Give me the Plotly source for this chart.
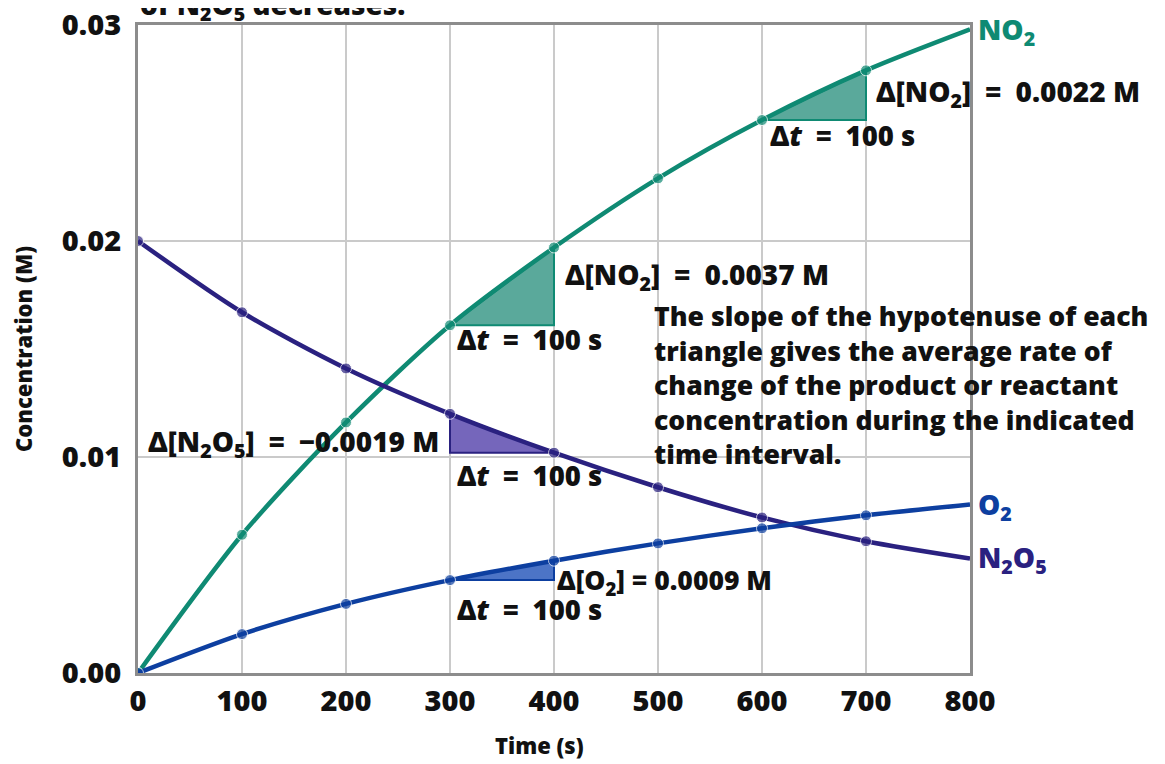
import plotly.graph_objects as go

# ---- data ----
time_s = [0, 100, 200, 300, 400, 500, 600, 700, 800]
no2 = [0.0, 0.0064, 0.0116, 0.0161, 0.0197, 0.0229, 0.0256, 0.0279, 0.0298]
n2o5 = [0.0200, 0.0167, 0.0141, 0.0120, 0.0102, 0.0086, 0.0072, 0.0061, 0.0053]
o2 = [0.0, 0.0018, 0.0032, 0.0043, 0.0052, 0.0060, 0.0067, 0.0073, 0.0078]

x_ticks = [0, 100, 200, 300, 400, 500, 600, 700, 800]
y_ticks = [0.00, 0.01, 0.02, 0.03]

C_NO2, F_NO2 = "#0f8a73", "#5aa99b"
C_N2O5, F_N2O5 = "#2a2180", "#7566bb"
C_O2, F_O2 = "#0d3fa0", "#4c74c6"

FONT = "Open Sans"
TXT = 28
W = 800
INK = "#111111"
fig = go.Figure()


def triangle(series, i, j, line_c, fill_c, decreasing=False):
    x0, x1 = time_s[i], time_s[j]
    y0, y1 = series[i], series[j]
    if decreasing:
        xs, ys = [x0, x1, x0, x0], [y0, y1, y1, y0]
    else:
        xs, ys = [x0, x1, x1, x0], [y0, y1, y0, y0]
    fig.add_trace(go.Scatter(x=xs, y=ys, mode="lines", fill="toself",
                             fillcolor=fill_c, line=dict(color=line_c, width=2),
                             hoverinfo="skip", showlegend=False))


triangle(no2, 3, 4, C_NO2, F_NO2)
triangle(no2, 6, 7, C_NO2, F_NO2)
triangle(n2o5, 3, 4, C_N2O5, F_N2O5, decreasing=True)
triangle(o2, 3, 4, C_O2, F_O2)

msizes = [11] * (len(time_s) - 1) + [0]
for name, ser, col in [("NO2", no2, C_NO2), ("N2O5", n2o5, C_N2O5), ("O2", o2, C_O2)]:
    fig.add_trace(go.Scatter(x=time_s, y=ser, mode="lines+markers", name=name,
                             line=dict(color=col, width=4.5, shape="spline", smoothing=0.8),
                             marker=dict(color=col, size=msizes),
                             showlegend=False))


def note(x, y, text, xanchor="left", color=INK, size=TXT, xref="x", yref="y", xshift=0):
    fig.add_annotation(x=x, y=y, xref=xref, yref=yref, text=text, showarrow=False,
                       xanchor=xanchor, yanchor="middle", align="left", xshift=xshift,
                       font=dict(family=FONT, size=size, color=color, weight=W))


EQ = "\u2002=\u2002"
dt = "\u0394<i>t</i>" + EQ + "100 s"
note(708, 0.02685, "\u0394[NO<sub>2</sub>]" + EQ + "0.0022 M")
note(606, 0.0249, dt, size=27.5)
note(409, 0.01840, "\u0394[NO<sub>2</sub>]" + EQ + "0.0037 M")
note(305, 0.01545, dt, size=27.5)
note(291, 0.01065, "\u0394[N<sub>2</sub>O<sub>5</sub>]" + EQ + "\u22120.0019 M", xanchor="right")
note(305, 0.00915, dt, size=27.5)
note(401, 0.00424, "\u0394[O<sub>2</sub>] = 0.0009 M", size=26.5)
note(305, 0.00292, dt, size=27.5)
note(494, 0.01332,
     "The slope of the hypotenuse of each<br>triangle gives the average rate of<br>"
     "change of the product or reactant<br>concentration during the indicated<br>time interval.",
     size=26.6)

note(1.0, 0.0297, "NO<sub>2</sub>", color=C_NO2, xref="paper", xshift=6)
note(1.0, 0.00775, "O<sub>2</sub>", color=C_O2, xref="paper", xshift=6)
note(1.0, 0.0053, "N<sub>2</sub>O<sub>5</sub>", color=C_N2O5, xref="paper", xshift=6)

# x-axis title placed as text (slightly left of the plot centre, as in the reference)
note(0.482, -0.111, "Time (s)", xanchor="center", size=22, xref="paper", yref="paper")

# partially visible caption at the very top (cut off by the page edge, as in the reference)
fig.add_annotation(x=0, y=1.0, xref="x", yref="paper", xanchor="left", yanchor="bottom",
                   text="of N<sub>2</sub>O<sub>5</sub> decreases.", showarrow=False,
                   yshift=-4,
                   font=dict(family=FONT, size=TXT, color=INK, weight=W))

axis_common = dict(showgrid=True, gridcolor="#cacaca", gridwidth=1.5, zeroline=False,
                   showline=True, linecolor="#8c8c8c", linewidth=3, mirror=True,
                   ticks="", ticklabeloverflow="allow", automargin=False,
                   tickfont=dict(family=FONT, size=29, color=INK, weight=W))

fig.update_xaxes(range=[0, 800], tickvals=x_ticks, ticktext=[str(v) for v in x_ticks],
                 **axis_common)
fig.update_yaxes(range=[0, 0.03], tickvals=y_ticks, ticktext=[f"{v:.2f}" for v in y_ticks],
                 ticklabelstandoff=8,
                 title=dict(text="Concentration (M)", standoff=26,
                            font=dict(family=FONT, size=22, color=INK, weight=W)),
                 **axis_common)

# the page body has an 8 px margin, so the margins are reduced by 8 px on the left/top
fig.update_layout(width=1165, height=764, margin=dict(l=130, r=203, t=17, b=99),
                  plot_bgcolor="white", paper_bgcolor="white",
                  font=dict(family=FONT))

fig.write_html("out.html")
